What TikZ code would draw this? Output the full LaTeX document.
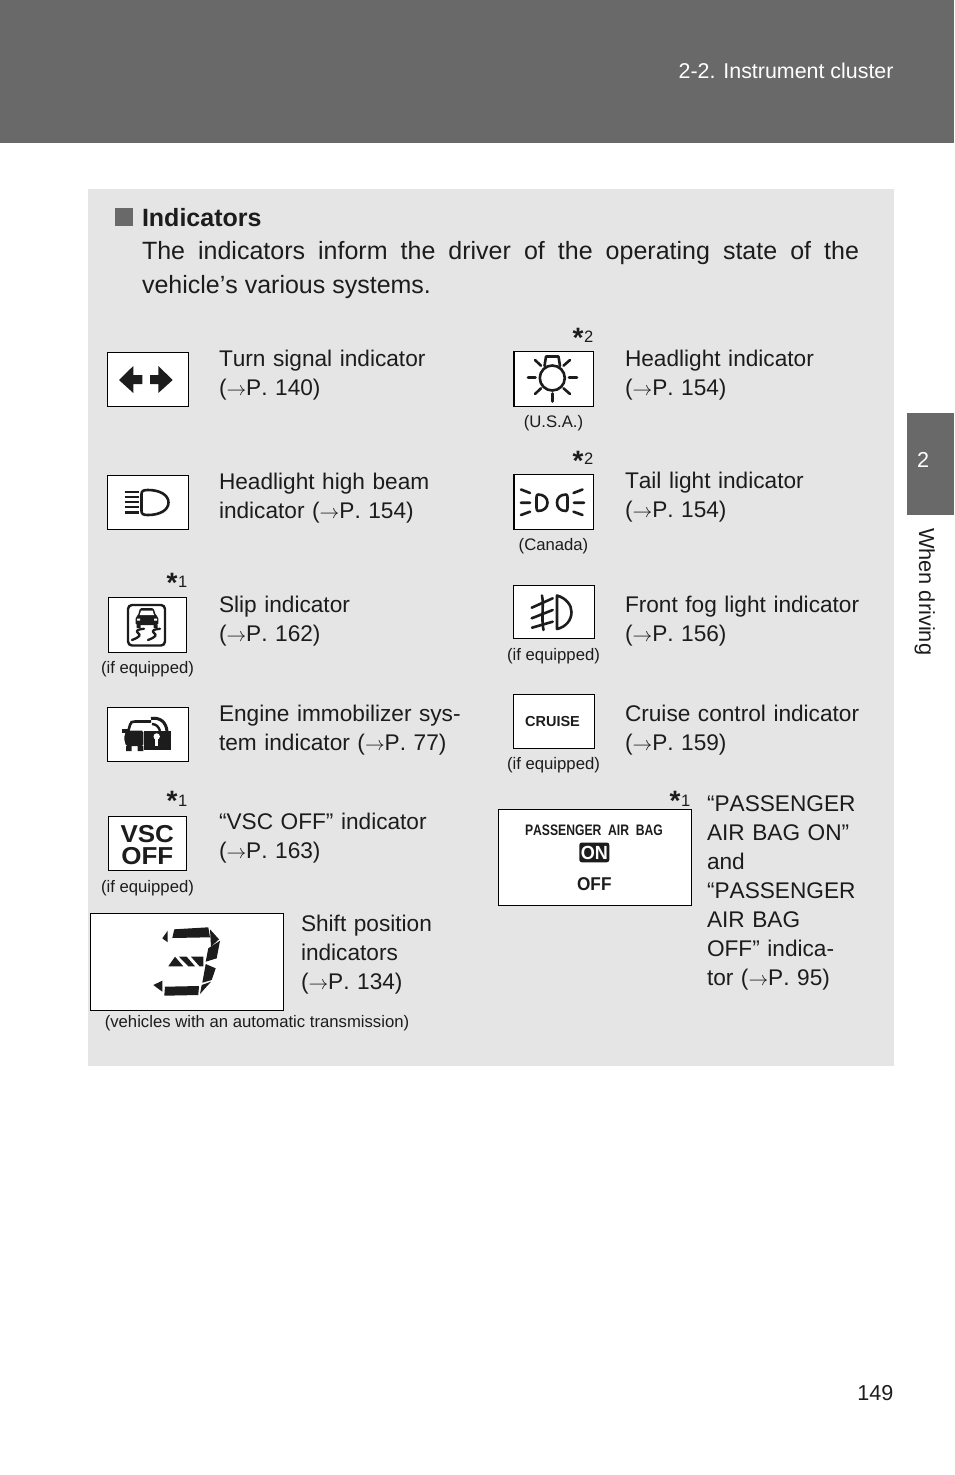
\documentclass[tikz,border=0pt]{standalone}
\usepackage{fontspec}
\setmainfont[Kerning=Off]{Liberation Sans}
\definecolor{hdrgray}{HTML}{696969}
\definecolor{panelgray}{HTML}{E5E5E5}
\definecolor{txtcol}{HTML}{1C1C1C}
\newcommand{\ptr}{\scalebox{.95}{$\rightarrow$}}
\newcommand{\fs}[1]{\fontsize{#1}{#1}\selectfont}
\begin{document}
\begin{tikzpicture}[x=1pt, y=-1pt, inner sep=0pt, outer sep=0pt, text=txtcol,
    lbl/.style={anchor=base west, text width=260pt, align=left, font=\fs{22.65}, execute at begin node={\setlength{\baselineskip}{29pt}}},
    note/.style={anchor=base, font=\fs{16.7}},
    sstar/.style={anchor=base, font=\fs{28}\bfseries},
    sdig/.style={anchor=base west, font=\fs{16.5}},
    ibox/.style={draw=black, fill=white, line width=1pt},
    lamp/.style={draw=txtcol, line width=2.6pt, line cap=round, line join=round},
    seg/.style={fill=txtcol}]
\useasboundingbox (0,0) rectangle (954,1475);
% page furniture
\fill[hdrgray] (0,0) rectangle (954,143);
\fill[hdrgray] (907,413) rectangle (954,515);
\fill[panelgray] (88,189) rectangle (894,1066);
\node[anchor=base east, text=white, font=\fs{21.4}] (chap) at (893.5,78) {2-2. Instrument cluster};
\node[anchor=base, text=white, font=\fs{21.6}] (tabnum) at (923,467) {2};
\node[anchor=base west, rotate=-90, font=\fs{21.8}] (tabtxt) at (919,528) {When driving};
\node[anchor=base east, font=\fs{21.6}] (page) at (893.5,1400) {149};
% heading
\fill[hdrgray] (115,208) rectangle (133,226);
\node[anchor=base west, font=\fs{25}\bfseries] (head) at (142,226) {Indicators};
\node[anchor=base west, text width=717pt, align=justify, font=\fs{25},
      execute at begin node={\setlength{\baselineskip}{34pt}}] (intro) at (142,259)
  {The indicators inform the driver of the operating state of the\linebreak vehicle’s various systems.};

% left column
\node[ibox, minimum width=81.5pt, minimum height=54.5pt] (turn) at (148,379.5) {};
\fill[txtcol] (119,380) -- (133.3,366) -- (133.3,375) -- (142.3,375) -- (142.3,384) -- (133.3,384) -- (133.3,393) -- cycle;
\fill[txtcol] (172.7,380) -- (158.3,366) -- (158.3,375) -- (150,375) -- (150,384) -- (158.3,384) -- (158.3,393) -- cycle;
\node[lbl] (turnl) at (219,366) {Turn signal indicator\\(\ptr P. 140)};

\node[ibox, minimum width=81.5pt, minimum height=54.5pt] (beam) at (148,502.5) {};
\foreach \y in {492,497,502,507,512.5}
  \draw[line width=2.4pt, txtcol] (124.5,\y) -- (139,\y);
\draw[lamp] (141.5,494) .. controls (141.5,490.5) and (144,490) .. (148,490) .. controls (160,490) and (168.5,495) .. (168.5,502.5) .. controls (168.5,510) and (160,515) .. (148,515) .. controls (144,515) and (141.5,514.5) .. (141.5,511) -- cycle;
\node[lbl] (beaml) at (219,489) {Headlight high beam\\indicator (\ptr P. 154)};

\node[sstar] (slips) at (172,592) {*};
\node[sdig] (slipd) at (178,587) {1};
\node[ibox, minimum width=78.5pt, minimum height=55.5pt] (slip) at (147.5,625) {};
\draw[draw=txtcol, line width=2.4pt, rounded corners=4pt] (128,605) rectangle (165,645.5);
\fill[txtcol, rounded corners=1.5pt] (140,608) -- (153.5,608) -- (156,615.5) -- (158.3,617) -- (158.3,625) -- (135.7,625) -- (135.7,617) -- (138,615.5) -- cycle;
\fill[white] (141,610.7) -- (152.7,610.7) -- (154,615) -- (139.7,615) -- cycle;
\fill[white] (137,618.5) rectangle (140,620.5) (154,618.5) rectangle (157,620.5);
\fill[txtcol] (136.5,625) rectangle (140.5,628) (153.5,625) rectangle (157.5,628);
\draw[lamp, line width=2.3pt] (144,628.8) .. controls (138,629) and (135,631) .. (138,633) .. controls (141,635) and (140,637) .. (132,640);
\draw[lamp, line width=2.3pt] (160,628.8) .. controls (154,629) and (151,631) .. (154,633) .. controls (157,635) and (156,637) .. (148,640);
\node[note] (slipn) at (147.5,673) {(if equipped)};
\node[lbl] (slipl) at (219,612) {Slip indicator\\(\ptr P. 162)};

\node[ibox, minimum width=81.5pt, minimum height=54pt] (immo) at (148,734.3) {};
\draw[txtcol, line width=2.6pt] (128,732) -- (130,725) .. controls (130.5,722) and (132,721.5) .. (135,721.5) -- (151,721.5);
\fill[txtcol, rounded corners=1.5pt] (126,730.7) -- (143.3,730.7) -- (143.3,746) -- (126,746) -- (124,738) -- cycle;
\fill[txtcol] (122,729) rectangle (128,733);
\fill[txtcol] (126,746) rectangle (131.5,751) (137.5,746) rectangle (143.3,751);
\draw[txtcol, line width=3pt] (151,718.5) .. controls (160,717) and (166,722) .. (167,731);
\draw[txtcol, line width=2.4pt] (152,724) .. controls (156,724) and (159,727) .. (160,731);
\fill[txtcol] (144,730.7) rectangle (171,750);
\fill[white] (156.7,736.5) circle (3.2pt);
\fill[white] (155,737) rectangle (158.4,745.5);
\node[lbl] (immol) at (219,721) {Engine immobilizer sys-\\tem indicator (\ptr P. 77)};

\node[sstar] (vscs) at (172,810) {*};
\node[sdig] (vscd) at (178,806) {1};
\node[ibox, minimum width=78.5pt, minimum height=54pt] (vsc) at (147.5,843.3) {};
\node[anchor=base, font=\fs{24.5}\bfseries, xscale=1.06, transform shape] (vsct) at (147.3,842.7) {VSC};
\node[anchor=base, font=\fs{24.5}\bfseries, xscale=1.06, transform shape] (vsco) at (147.3,864.5) {OFF};
\node[note] (vscn) at (147.5,892) {(if equipped)};
\node[lbl] (vscl) at (219,829) {“VSC OFF” indicator\\(\ptr P. 163)};

\node[ibox, minimum width=193.5pt, minimum height=97.5pt] (shift) at (187,962) {};
\fill[seg] (174.3,929.3) -- (208.3,927.3) -- (210,937.3) -- (172.3,938) -- cycle;
\fill[seg] (167.7,930.7) -- (162.3,938.3) -- (167.7,942.3) -- cycle;
\fill[seg] (210,929.3) -- (219,939.3) -- (211,946.7) -- cycle;
\fill[seg] (220,940.7) -- (216.7,958.3) -- (205.7,961.7) -- (208.3,948.3) -- cycle;
\fill[seg] (168.3,966.3) -- (175,956.7) -- (183.3,966.3) -- cycle;
\fill[seg] (179,956.7) -- (186.7,956.7) -- (195,966.3) -- (188.3,966.3) -- cycle;
\fill[seg] (191,956.7) -- (203.3,956.7) -- (203.3,966.3) -- (199.5,966.3) -- cycle;
\fill[seg] (205.7,964) -- (215.7,968.3) -- (211.7,980) -- (202.3,982.7) -- cycle;
\fill[seg] (201.7,985) -- (211,981.7) -- (200,994) -- cycle;
\fill[seg] (165,986.7) -- (199,986) -- (198.3,995) -- (164.3,995.7) -- cycle;
\fill[seg] (162.3,980.7) -- (153.3,985) -- (162.3,991.7) -- cycle;
\node[note] (shiftn) at (257,1027) {(vehicles with an automatic transmission)};
\node[lbl, text width=170pt] (shiftl) at (301,931) {Shift position\\indicators\\(\ptr P. 134)};

% right column
\node[sstar] (heads) at (578,347) {*};
\node[sdig] (headd) at (584,342) {2};
\node[ibox, line width=1.4pt, minimum width=79.5pt, minimum height=55pt] (lite) at (553.8,379) {};
\draw[lamp, fill=white] (544.5,366) -- (546,356.5) -- (558.5,356.5) -- (560,366);
\draw[lamp, fill=white] (552.3,378) circle (12.5pt);
\draw[lamp] (528,377.5) -- (535.5,377.5) (569,377.5) -- (577,377.5) (552.3,393.5) -- (552.3,401.5);
\draw[lamp] (535,360) -- (541,365.7) (563.5,365.7) -- (570,360) (535,394) -- (541,388.3) (563.5,388.3) -- (570,394);
\node[note] (liten) at (553.5,427) {(U.S.A.)};
\node[lbl] (litel) at (625,366) {Headlight indicator\\(\ptr P. 154)};

\node[sstar] (tails) at (578,470) {*};
\node[sdig] (taild) at (584,464.5) {2};
\node[ibox, line width=1.4pt, minimum width=79.5pt, minimum height=55pt] (tail) at (553.8,502) {};
\draw[lamp] (521,489.5) -- (530,493) (521,502.7) -- (530,502.7) (521,515) -- (530,511.7);
\draw[lamp] (582.5,489.5) -- (573.5,493) (574,502.7) -- (584,502.7) (582.5,515) -- (573.5,511.7);
\draw[lamp] (538,494.5) .. controls (544,494.5) and (547.5,498) .. (547.5,502.7) .. controls (547.5,507.5) and (544,511) .. (538,511) .. controls (536,511) and (536.5,505) .. (536.5,502.7) .. controls (536.5,499) and (536,494.5) .. (538,494.5) -- cycle;
\draw[lamp] (566,494.5) .. controls (560,494.5) and (557,498) .. (557,502.7) .. controls (557,507.5) and (560,511) .. (566,511) .. controls (568,511) and (567.5,505) .. (567.5,502.7) .. controls (567.5,499) and (568,494.5) .. (566,494.5) -- cycle;
\node[note] (tailn) at (553.5,550) {(Canada)};
\node[lbl] (taill) at (625,488) {Tail light indicator\\(\ptr P. 154)};

\node[ibox, minimum width=81.5pt, minimum height=53.5pt] (fog) at (554,612) {};
\draw[lamp] (557,595.5) .. controls (566,598) and (571.5,605) .. (571.5,612) .. controls (571.5,620) and (566,627) .. (557,629) -- cycle;
\draw[lamp] (531.7,607.7) -- (552.7,598.3) (531.7,618.3) -- (552.7,610) (532,627.7) -- (552.7,621.7);
\draw[lamp] (542,595.5) .. controls (544,605) and (541,618) .. (543.5,630);
\node[note] (fogn) at (553.5,660) {(if equipped)};
\node[lbl] (fogl) at (625,612) {Front fog light indicator\\(\ptr P. 156)};

\node[ibox, minimum width=81pt, minimum height=54pt] (cruise) at (553.8,721.3) {};
\node[anchor=base, font=\fs{14.5}\bfseries] (cruiset) at (552.5,726.3) {CRUISE};
\node[note] (cruisen) at (553.5,769) {(if equipped)};
\node[lbl] (cruisel) at (625,721) {Cruise control indicator\\(\ptr P. 159)};

\node[sstar] (bags) at (675,810) {*};
\node[sdig] (bagd) at (681,806) {1};
\node[ibox, minimum width=193.5pt, minimum height=96pt] (bag) at (595,857.2) {};
\node[anchor=base, font=\fs{15.2}\bfseries, xscale=.8, transform shape] (bagt) at (594,835.8) {PASSENGER\ \ AIR\ \ BAG};
\fill[txtcol, rounded corners=2.5pt] (579.3,842.5) rectangle (609.3,862.3);
\node[anchor=base, text=white, font=\fs{19}\bfseries, xscale=.95, transform shape] (bagon) at (594.3,859.5) {ON};
\node[anchor=base, font=\fs{18.5}\bfseries, xscale=.93, transform shape] (bagoff) at (594.3,890.5) {OFF};
\node[lbl, text width=160pt] (bagl) at (707,811.5) {“PASSENGER\\AIR BAG ON”\\and\\“PASSENGER\\AIR BAG\\OFF” indica-\\tor (\ptr P. 95)};
\end{tikzpicture}
\end{document}
